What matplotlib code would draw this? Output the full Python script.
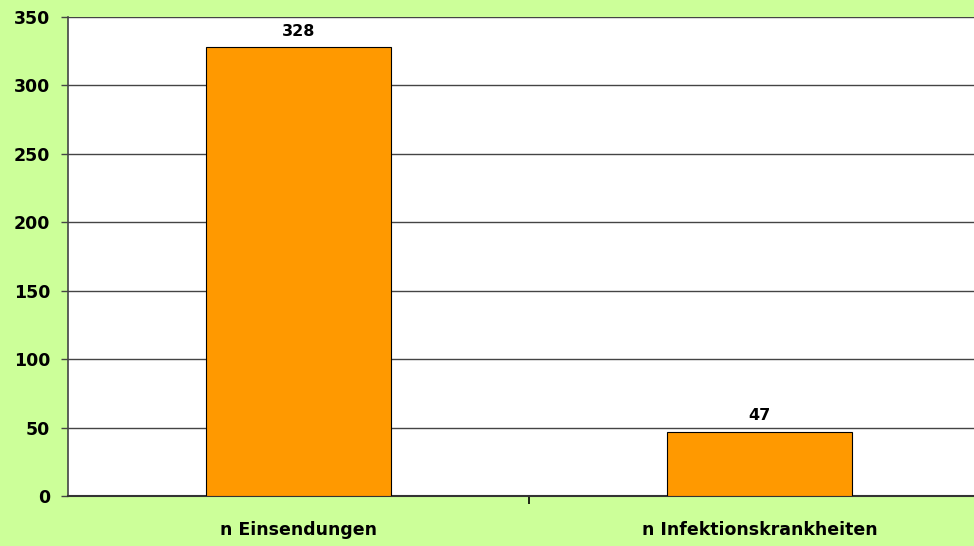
import matplotlib
matplotlib.use('Agg')
import matplotlib.pyplot as plt

# chart data
categories = ['n Einsendungen', 'n Infektionskrankheiten']
values = [328, 47]
yticks = [0, 50, 100, 150, 200, 250, 300, 350]

BG = '#ccff99'
BAR = '#ff9900'
GRID = '#444444'

fig = plt.figure(figsize=(9.74, 5.46), dpi=100, facecolor=BG)
# plot area runs past the right edge like in the original
ax = fig.add_axes([68 / 974, 1 - 496 / 546, (990 - 68) / 974, (496 - 17) / 546])
ax.set_facecolor('white')

x = list(range(len(categories)))
bars = ax.bar(x, values, width=0.4, color=BAR, edgecolor='black', linewidth=0.8, zorder=3)

for b, v in zip(bars, values):
    ax.annotate(str(v), (b.get_x() + b.get_width() / 2, v), xytext=(0, 6),
                textcoords='offset points', ha='center', va='bottom',
                fontsize=11.5, fontweight='bold', color='black')

ax.set_xlim(-0.5, len(categories) - 0.5)
ax.set_ylim(0, 350)
ax.set_yticks(yticks)
ax.set_yticklabels([str(t) for t in yticks], fontsize=12.5, fontweight='bold')
ax.yaxis.grid(True, color=GRID, linewidth=1.0, zorder=0)

# category labels centred under bars, separator ticks between categories
ax.set_xticks(x)
ax.set_xticklabels(categories, fontsize=12.5, fontweight='bold')
ax.tick_params(axis='x', length=0, pad=18)
ax.set_xticks([0.5], minor=True)
ax.tick_params(axis='x', which='minor', length=6, width=1.2, color='black')
ax.tick_params(axis='y', length=5, width=1.0, color=GRID, pad=8)

for s in ['top', 'right']:
    ax.spines[s].set_visible(False)
ax.spines['left'].set_color(GRID)
ax.spines['left'].set_linewidth(1.2)
ax.spines['bottom'].set_color('#333333')
ax.spines['bottom'].set_linewidth(1.5)

fig.savefig('out.png', dpi=100, facecolor=BG)
